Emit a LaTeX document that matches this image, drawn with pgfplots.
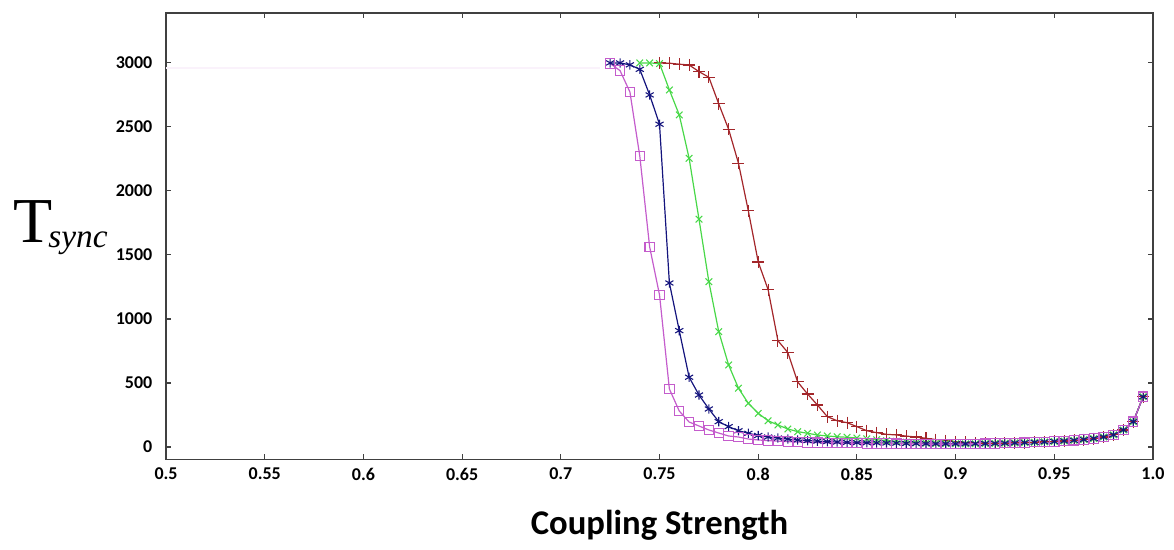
\documentclass[border=0pt]{standalone}
\usepackage{pgfplots}
\pgfplotsset{compat=1.18}
\usepackage{fontspec}
\setmainfont{Carlito}
\newfontfamily\tnr{Liberation Serif}

\definecolor{cred}{HTML}{A3262A}
\definecolor{cgreen}{HTML}{48D848}
\definecolor{cblue}{HTML}{14147D}
\definecolor{cpink}{HTML}{C45CCC}

\begin{document}
\begin{tikzpicture}
\begin{axis}[
    scale only axis,
    width=740pt, height=335pt,
    xmin=0.5, xmax=1.0,
    ymin=-100, ymax=3390,
    xtick={0.5,0.55,0.6,0.65,0.7,0.75,0.8,0.85,0.9,0.95,1.0},
    xticklabels={0.5,0.55,0.6,0.65,0.7,0.75,0.8,0.85,0.9,0.95,1.0},
    ytick={0,500,1000,1500,2000,2500,3000},
    yticklabels={0,500,1000,1500,2000,2500,3000},
    /pgf/number format/assume math mode=true,
    ticklabel style={font=\fontsize{13.5}{15}\selectfont\bfseries},
    xticklabel style={yshift=-2.5pt},
    yticklabel style={xshift=-6.75pt},
    axis line style={black!75, line width=1pt},
    every tick/.style={black!75, line width=0.8pt},
    major tick length=4pt,
    clip=false,
]
% faint saturated level left of the transition
\addplot[draw=cpink!8, line width=1.5pt, forget plot] coordinates {(0.5,2960) (0.72,2960)};

\addplot[cred, line width=0.9pt, mark=+, mark size=4.5pt, mark options={solid, line width=0.8pt}] coordinates {
(0.75,3000) (0.755,2998) (0.76,2990) (0.765,2984) (0.77,2932) (0.775,2888)
(0.78,2680) (0.785,2482) (0.79,2216) (0.795,1844) (0.8,1445) (0.805,1230)
(0.81,830) (0.815,738) (0.82,508) (0.825,414) (0.83,328) (0.835,237)
(0.84,205) (0.845,190) (0.85,159) (0.855,127) (0.86,112) (0.865,99)
(0.87,94) (0.875,85) (0.88,78) (0.885,68) (0.89,58) (0.895,50)
(0.9,42) (0.905,36) (0.91,32) (0.915,30) (0.92,29) (0.925,30)
(0.93,32) (0.935,34) (0.94,37) (0.945,40) (0.95,43) (0.955,47)
(0.96,52) (0.965,58) (0.97,66) (0.975,78) (0.98,95) (0.985,133)
(0.99,198) (0.995,393)
};

\addplot[cgreen, line width=0.9pt, mark=x, mark size=3.5pt, mark options={solid, line width=0.8pt}] coordinates {
(0.74,3000) (0.745,3000) (0.75,2995) (0.755,2789) (0.76,2594) (0.765,2255)
(0.77,1779) (0.775,1291) (0.78,901) (0.785,641) (0.79,459) (0.795,341)
(0.8,263) (0.805,205) (0.81,172) (0.815,141) (0.82,120) (0.825,107)
(0.83,94) (0.835,86) (0.84,80) (0.845,76) (0.85,70) (0.855,64)
(0.86,57) (0.865,50) (0.87,44) (0.875,38) (0.88,33) (0.885,30)
(0.89,28) (0.895,27) (0.9,26) (0.905,25) (0.91,26) (0.915,27)
(0.92,28) (0.925,30) (0.93,32) (0.935,34) (0.94,37) (0.945,40)
(0.95,43) (0.955,47) (0.96,52) (0.965,58) (0.97,66) (0.975,78)
(0.98,95) (0.985,133) (0.99,198) (0.995,393)
};

\addplot[cblue, line width=0.9pt, mark=asterisk, mark size=3.5pt, mark options={solid, line width=0.8pt}] coordinates {
(0.725,3000) (0.73,3000) (0.735,2985) (0.74,2950) (0.745,2750) (0.75,2521)
(0.755,1281) (0.76,909) (0.765,545) (0.77,406) (0.775,297) (0.78,198)
(0.785,159) (0.79,127) (0.795,107) (0.8,90) (0.805,78) (0.81,70)
(0.815,62) (0.82,55) (0.825,50) (0.83,46) (0.835,42) (0.84,39)
(0.845,36) (0.85,34) (0.855,33) (0.86,32) (0.865,31) (0.87,30)
(0.875,28) (0.88,27) (0.885,26) (0.89,25) (0.895,25) (0.9,25)
(0.905,25) (0.91,26) (0.915,27) (0.92,28) (0.925,30) (0.93,32)
(0.935,34) (0.94,37) (0.945,40) (0.95,43) (0.955,47) (0.96,52)
(0.965,58) (0.97,66) (0.975,78) (0.98,95) (0.985,133) (0.99,198)
(0.995,393)
};

\addplot[cpink, line width=0.9pt, mark=square, mark size=3.5pt, mark options={solid, line width=0.8pt}] coordinates {
(0.725,2995) (0.73,2940) (0.735,2773) (0.74,2273) (0.745,1563) (0.75,1188)
(0.755,453) (0.76,281) (0.765,195) (0.77,164) (0.775,133) (0.78,109)
(0.785,86) (0.79,78) (0.795,62) (0.8,55) (0.805,50) (0.81,46)
(0.815,42) (0.82,39) (0.825,36) (0.83,34) (0.835,32) (0.84,31)
(0.845,30) (0.85,29) (0.855,28) (0.86,27) (0.865,27) (0.87,26)
(0.875,25) (0.88,25) (0.885,24) (0.89,24) (0.895,24) (0.9,24)
(0.905,24) (0.91,25) (0.915,26) (0.92,27) (0.925,29) (0.93,31)
(0.935,34) (0.94,37) (0.945,40) (0.95,43) (0.955,47) (0.96,52)
(0.965,58) (0.97,66) (0.975,78) (0.98,95) (0.985,133) (0.99,198)
(0.995,393)
};

\node[anchor=base west, inner sep=0pt, xshift=-114.75pt] at (rel axis cs:0,0.486)
  {\tnr\fontsize{48}{50}\selectfont T\kern-3pt\raisebox{-4pt}{\fontsize{25}{27}\selectfont\itshape sync}};
\node[anchor=base, inner sep=0pt, yshift=-56.25pt] at (rel axis cs:0.5,0)
  {\fontsize{26}{29}\selectfont\bfseries Coupling Strength};
\end{axis}
\pgfresetboundingbox
\path[use as bounding box] ([shift={(-124.5pt,-67.5pt)}]current axis.south west)
  rectangle ([shift={(15.75pt,9.75pt)}]current axis.north east);
\end{tikzpicture}
\end{document}
